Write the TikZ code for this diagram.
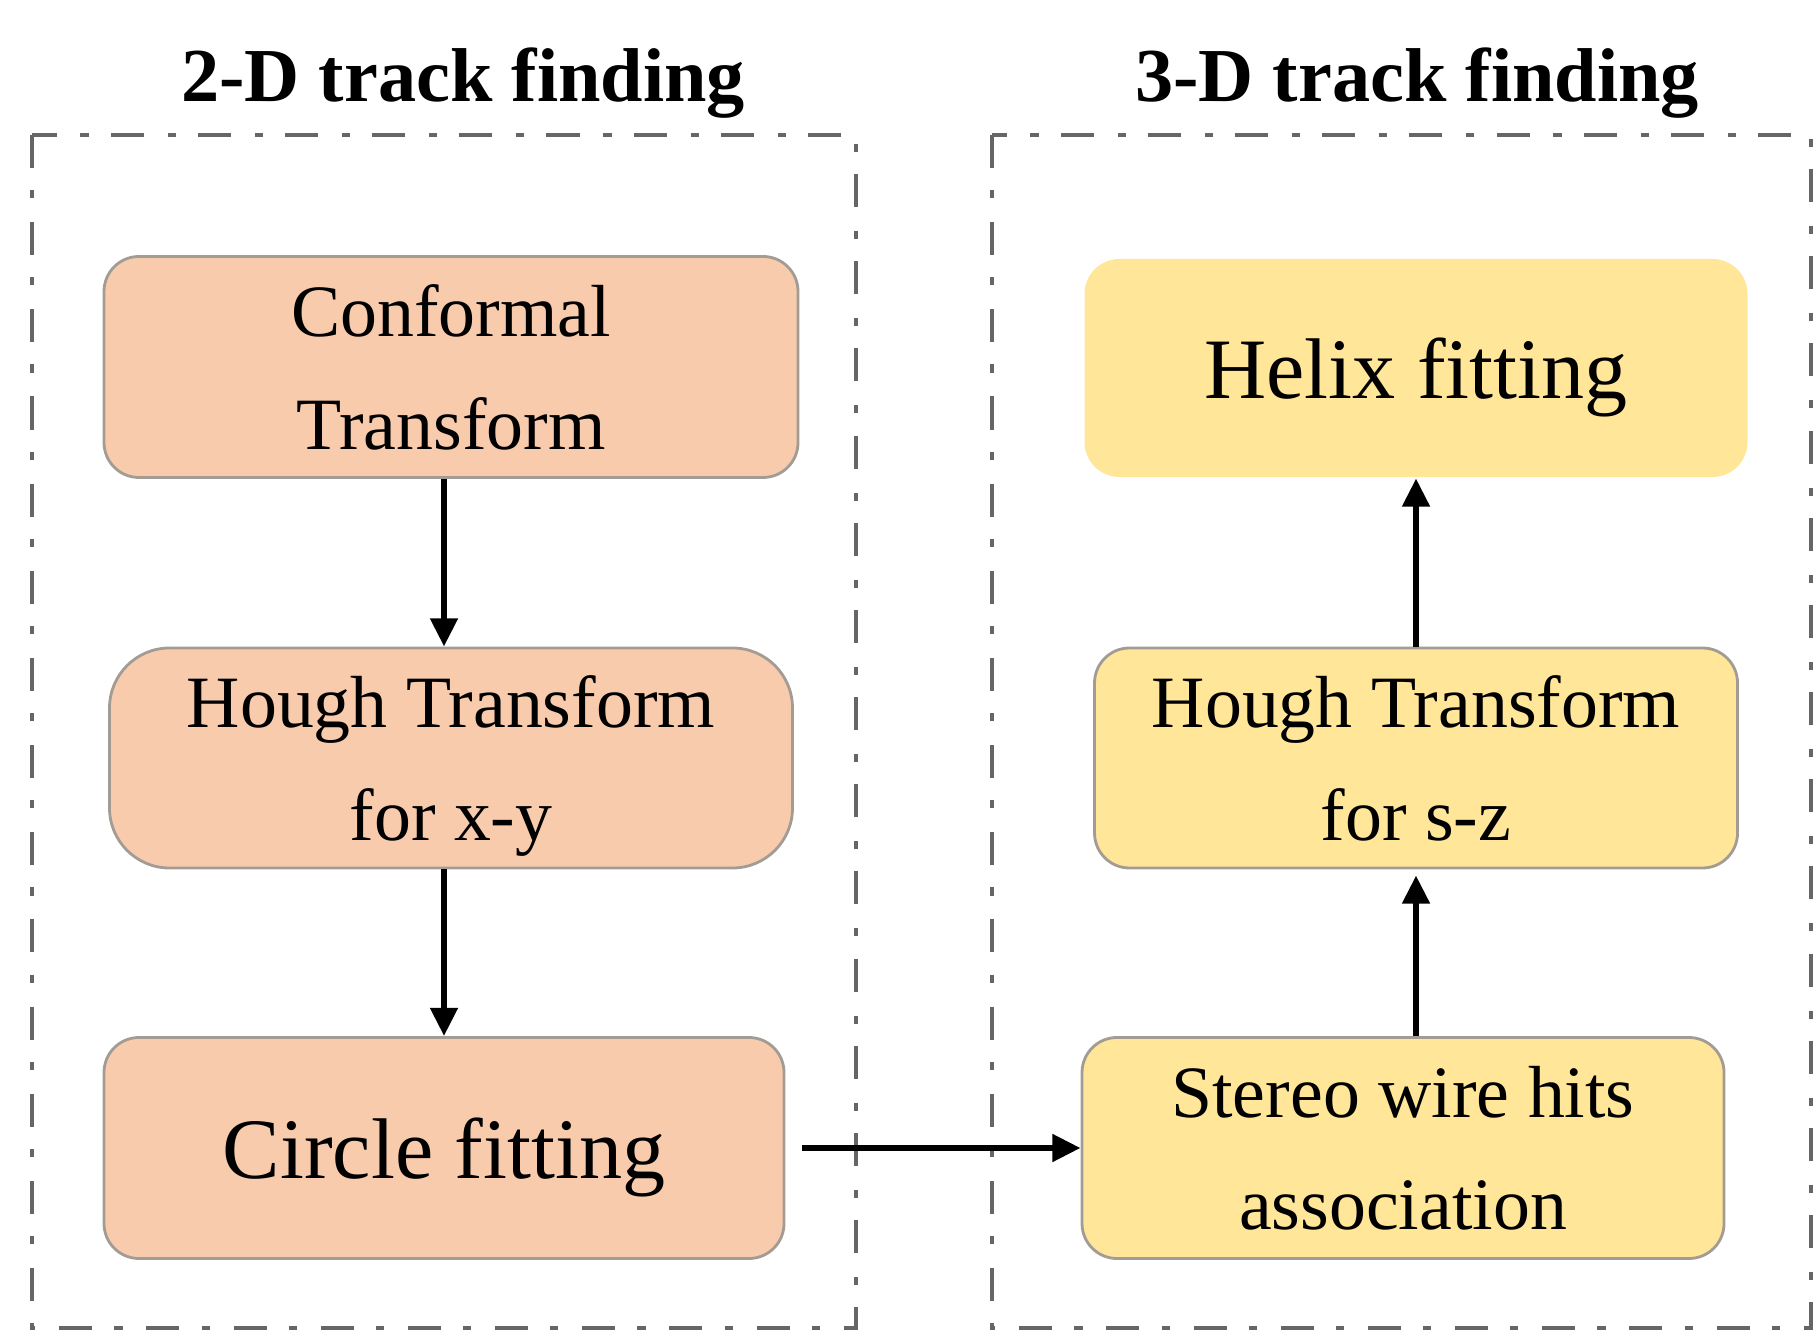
\documentclass[tikz,border=0pt]{standalone}
\usepackage{fontspec}
\setmainfont{Liberation Serif}
\usetikzlibrary{arrows.meta}
\definecolor{salmon}{HTML}{F8CBAD}
\definecolor{sand}{HTML}{FFE699}
\definecolor{boxline}{HTML}{A39C95}

\begin{document}
\begin{tikzpicture}[
    box/.style={rectangle, rounded corners=0.35cm, draw=boxline, line width=0.8pt, align=center,
                inner sep=0pt, text depth=0pt, font=\fontsize{21}{32}\selectfont},
    big/.style={font=\fontsize{24.5}{30}\selectfont},
    twod/.style={box, fill=salmon},
    threed/.style={box, fill=sand},
    group/.style={draw=black!60, line width=1.1pt, dash pattern=on 9.4pt off 6.3pt on 2.3pt off 6.8pt},
    title/.style={anchor=base, font=\fontsize{21.7}{26}\selectfont\bfseries},
    arr/.style={-{Triangle[length=8pt,width=7.5pt]}, line width=1.8pt}
]
    \useasboundingbox (0,0) rectangle (18.14,13.31);
    % Groups
    \node[title] (t2d) at (4.63,12.29) {2-D track finding};
    \node[title] (t3d) at (14.17,12.29) {3-D track finding};
    \draw[group] (0.32,11.96) rectangle (8.56,0.03);
    \draw[group] (9.92,11.96) rectangle (18.11,0.03);
    % Steps
    \node[twod, minimum width=6.94cm, minimum height=2.21cm] (conf) at (4.51,9.64) {Conformal\\Transform};
    \node[twod, rounded corners=0.6cm, minimum width=6.83cm, minimum height=2.2cm] (hxy) at (4.51,5.73) {Hough Transform\\for x-y};
    \node[twod, big, minimum width=6.8cm, minimum height=2.21cm] (circ) at (4.44,1.83) {Circle fitting};
    \node[threed, big, draw=none, minimum width=6.63cm, minimum height=2.18cm] (helix) at (14.16,9.63) {Helix fitting};
    \node[threed, minimum width=6.43cm, minimum height=2.2cm] (hsz) at (14.16,5.73) {Hough Transform\\for s-z};
    \node[threed, minimum width=6.42cm, minimum height=2.21cm] (stereo) at (14.03,1.83) {Stereo wire hits\\association};
    % Flow
    \draw[arr] (conf.south -| circ) -- (hxy.north -| circ);
    \draw[arr] (hxy.south -| circ) -- (circ.north);
    \draw[arr, shorten <=0.17cm] (circ.east) -- (stereo.west);
    \draw[arr, shorten >=0.06cm] (stereo.north -| hsz) -- (hsz.south);
    \draw[arr] (hsz.north) -- (helix.south);
\end{tikzpicture}
\end{document}
